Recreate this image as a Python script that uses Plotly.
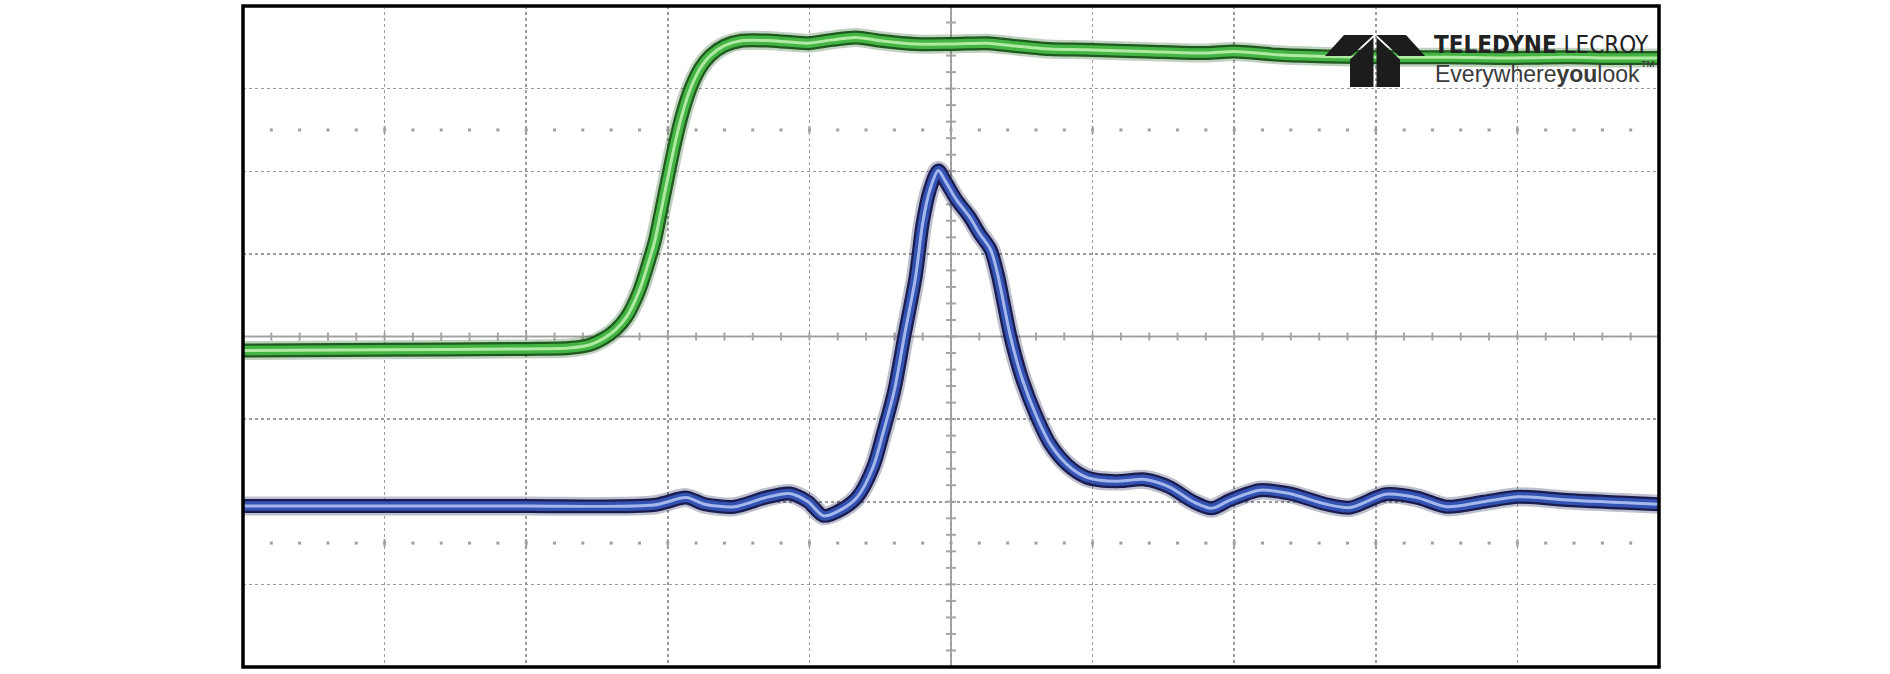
import numpy as np
import plotly.graph_objects as go

# ---- data (time in divisions, amplitude in divisions) ----
green_x = [0.0, 1.0, 2.0, 2.3, 2.45, 2.55, 2.63, 2.71, 2.80, 2.87, 2.91, 2.95, 3.00, 3.05,
           3.10, 3.16, 3.23, 3.30, 3.40, 3.52, 3.73, 3.99, 4.16, 4.33, 4.50, 4.75, 5.01, 5.26,
           5.43, 5.69, 5.95, 6.37, 6.80, 7.00, 7.31, 7.65, 8.07, 8.50, 8.93, 9.35, 9.69, 10.0]
green_y = [-0.17, -0.16, -0.15, -0.14, -0.10, -0.02, 0.08, 0.24, 0.56, 0.93, 1.17, 1.50, 1.92, 2.33,
           2.68, 3.00, 3.25, 3.40, 3.52, 3.58, 3.58, 3.55, 3.59, 3.62, 3.58, 3.54, 3.54, 3.55,
           3.52, 3.48, 3.47, 3.45, 3.43, 3.45, 3.41, 3.39, 3.38, 3.38, 3.37, 3.38, 3.37, 3.37]

blue_x = [0.0, 1.0, 2.0, 2.9, 3.13, 3.26, 3.47, 3.69, 3.86, 3.99, 4.10, 4.24, 4.34, 4.45, 4.52,
          4.60, 4.67, 4.75, 4.80, 4.85, 4.91, 4.96, 5.04, 5.13, 5.20, 5.28, 5.33, 5.42, 5.50,
          5.60, 5.70, 5.82, 5.95, 6.05, 6.20, 6.37, 6.54, 6.71, 6.84, 6.97, 7.18, 7.39, 7.65,
          7.82, 8.07, 8.29, 8.50, 8.76, 9.01, 9.35, 10.0]
blue_y = [-2.05, -2.05, -2.05, -2.04, -1.95, -2.03, -2.06, -1.95, -1.90, -2.00, -2.17, -2.08, -1.94, -1.58, -1.17,
          -0.65, 0.00, 0.72, 1.37, 1.77, 2.01, 1.88, 1.65, 1.45, 1.25, 1.05, 0.75, 0.00, -0.50,
          -0.95, -1.30, -1.55, -1.70, -1.74, -1.75, -1.73, -1.82, -2.00, -2.08, -1.98, -1.86, -1.90, -2.03,
          -2.07, -1.91, -1.95, -2.06, -2.00, -1.94, -1.98, -2.03]

X_DIVS = 10
Y_HALF = 4

fig = go.Figure()

# graticule dot rows
dot_x = np.round(np.arange(0.2, 10.0, 0.2), 3)
for yy in (2.5, -2.5):
    fig.add_trace(go.Scatter(x=dot_x, y=[yy] * len(dot_x), mode="markers",
                             marker=dict(size=3, color="#a0a0a0", symbol="square"),
                             hoverinfo="skip", showlegend=False))


def add_channel(xs, ys, halo, edge, body, core):
    for w, c in ((19, halo), (14, edge), (9.5, body), (3, core)):
        fig.add_trace(go.Scatter(x=xs, y=ys, mode="lines",
                                 line=dict(color=c, width=w, shape="spline", smoothing=0.8),
                                 hoverinfo="skip", showlegend=False))


add_channel(blue_x, blue_y, "rgba(26,28,80,0.28)", "#1a1c50", "#3452b2", "#a4b8ec")
add_channel(green_x, green_y, "rgba(30,90,30,0.28)", "#1e5a1e", "#44b444", "#b0eaa2")

shapes = []
# center axes
shapes.append(dict(type="line", xref="x", yref="y", x0=0, x1=X_DIVS, y0=0, y1=0,
                   line=dict(color="#a6a6a6", width=2), layer="below"))
shapes.append(dict(type="line", xref="x", yref="y", x0=5, x1=5, y0=-Y_HALF, y1=Y_HALF,
                   line=dict(color="#a6a6a6", width=2), layer="below"))
tx = 5.0 / 141.6
ty = 4.0 / 82.6
for v in np.arange(0.2, 10.0, 0.2):
    shapes.append(dict(type="line", xref="x", yref="y", x0=v, x1=v, y0=-ty, y1=ty,
                       line=dict(color="#a6a6a6", width=2), layer="below"))
for v in np.arange(-3.8, 4.0, 0.2):
    shapes.append(dict(type="line", xref="x", yref="y", x0=5 - tx, x1=5 + tx, y0=v, y1=v,
                       line=dict(color="#a6a6a6", width=2), layer="below"))
# small solid marks where the dot rows meet the grid lines
for gx in range(1, 10):
    if gx == 5:
        continue
    for yy in (2.5, -2.5):
        shapes.append(dict(type="line", xref="x", yref="y", x0=gx, x1=gx, y0=yy - ty, y1=yy + ty,
                           line=dict(color="#a6a6a6", width=2), layer="below"))
# border
shapes.append(dict(type="rect", xref="paper", yref="paper", x0=0, x1=1, y0=0, y1=1,
                   line=dict(color="#000000", width=3.5)))


# logo icon (pixel positions converted to data coords)
def px2x(px):
    return (px - 243) / 141.6


def px2y(py):
    return (336.5 - py) / 82.6


def poly(pts):
    return "M " + " L ".join(f"{px2x(a):.4f},{px2y(b):.4f}" for a, b in pts) + " Z"


CX = 1375
wing = [(1325, 56), (1344, 35), (1373.5, 35), (1351, 56)]
stem = [(1350, 59.5), (1373.5, 37.5), (1373.5, 87), (1350, 87)]
for piece in (wing, stem):
    for p in (piece, [(2 * CX - a, b) for a, b in piece]):
        shapes.append(dict(type="path", xref="x", yref="y", path=poly(p),
                           fillcolor="#1c1c1c", line=dict(width=0)))

fig.update_layout(
    width=1890, height=674,
    margin=dict(l=243, r=231, t=6, b=7),
    paper_bgcolor="white", plot_bgcolor="white",
    xaxis=dict(range=[0, X_DIVS], dtick=1, tick0=0, showgrid=True, gridcolor="#9c9c9c",
               griddash="dot", gridwidth=1.5, showticklabels=False, zeroline=False,
               ticks="", fixedrange=True),
    yaxis=dict(range=[-Y_HALF, Y_HALF], dtick=1, tick0=0, showgrid=True, gridcolor="#9c9c9c",
               griddash="dot", gridwidth=1.5, showticklabels=False, zeroline=False,
               ticks="", fixedrange=True),
    shapes=shapes,
    showlegend=False,
)

fig.add_annotation(xref="x", yref="y", x=px2x(1432), y=px2y(45), xanchor="left", yanchor="middle",
                   text="<b>TELEDYNE</b> LECROY", showarrow=False,
                   font=dict(family="DejaVu Sans Condensed", size=24, color="#222222"))
fig.add_annotation(xref="x", yref="y", x=px2x(1433), y=px2y(72), xanchor="left", yanchor="middle",
                   text="Everywhere<b>you</b>look<sup>™</sup>", showarrow=False,
                   font=dict(family="Liberation Sans", size=23, color="#3a3a3a"))

fig.write_html("out.html", post_script="document.body.style.margin='0';",
               config={"displayModeBar": False, "staticPlot": True})
